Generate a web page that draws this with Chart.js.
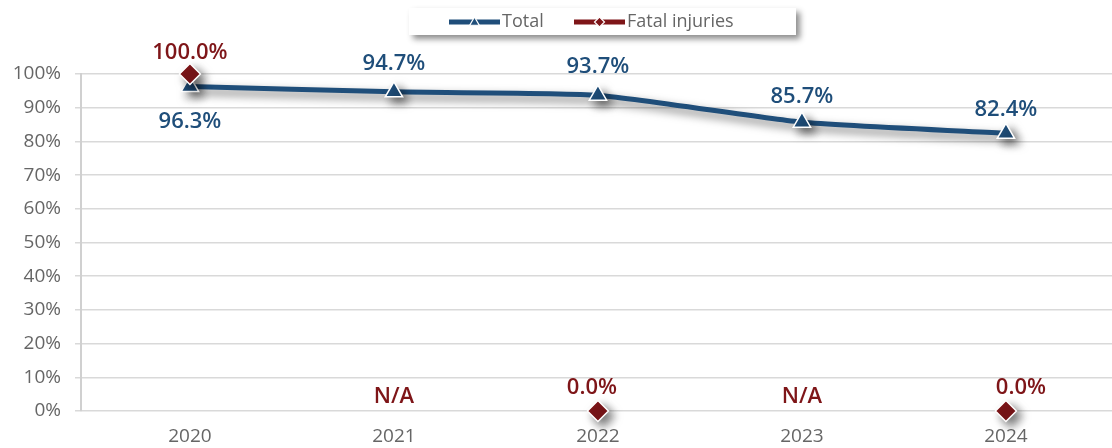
<!DOCTYPE html>
<html>
<head>
<meta charset="utf-8">
<script src="https://cdn.jsdelivr.net/npm/chart.js@4/dist/chart.umd.min.js"></script>
<style>
  html, body { margin: 0; padding: 0; background: #ffffff; }
  #wrap { width: 1112px; height: 448px; position: relative; }
</style>
</head>
<body>
<div id="wrap"><canvas id="c" width="1112" height="448"></canvas></div>
<script>
// Share of cases, by year
const years = ['2020', '2021', '2022', '2023', '2024'];
const totalValues = [96.3, 94.7, 93.7, 85.7, 82.4];
const fatalValues = [100.0, null, 0.0, null, 0.0];
const yTicks = [0, 10, 20, 30, 40, 50, 60, 70, 80, 90, 100];
const seriesNames = ['Total', 'Fatal injuries'];

const BLUE = '#1F4E7A';
const RED = '#7E1518';
const GREY_TEXT = '#666666';
const GRID = '#D9D9D9';
const FONT = '"Open Sans", Lato, sans-serif';

// Label placement relative to each marker (pixels)
const totalLabelShift = [[0, 35], [0, -28], [0, -28], [0, -25], [0, -24]];
const fatalLabelShift = [[0, -21], [0, -14], [-6, -23], [0, -14], [15, -23]];

function fmt(v) { return v === null ? 'N/A' : v.toFixed(1) + '%'; }
function toPoints(values) { return values.map((v, i) => ({ x: i, y: v })); }

// Soft drop shadow under lines and markers
const shadowPlugin = {
  id: 'dropShadow',
  beforeDatasetDraw(chart) {
    const ctx = chart.ctx;
    ctx.save();
    ctx.shadowColor = 'rgba(0,0,0,0.55)';
    ctx.shadowBlur = 10;
    ctx.shadowOffsetX = 5;
    ctx.shadowOffsetY = 5;
  },
  afterDatasetDraw(chart) {
    chart.ctx.restore();
  }
};

// Value labels next to each point
const valueLabels = {
  id: 'valueLabels',
  afterDatasetsDraw(chart) {
    const ctx = chart.ctx;
    const xs = chart.scales.x, ys = chart.scales.y;
    ctx.save();
    ctx.font = '600 22px ' + FONT;
    ctx.textAlign = 'center';
    ctx.textBaseline = 'middle';
    totalValues.forEach((v, i) => {
      const [dx, dy] = totalLabelShift[i];
      ctx.fillStyle = BLUE;
      ctx.fillText(fmt(v), xs.getPixelForValue(i) + dx, ys.getPixelForValue(v) + dy);
    });
    fatalValues.forEach((v, i) => {
      const [dx, dy] = fatalLabelShift[i];
      ctx.fillStyle = RED;
      ctx.fillText(fmt(v), xs.getPixelForValue(i) + dx, ys.getPixelForValue(v === null ? 0 : v) + dy);
    });
    ctx.restore();
  }
};

// Boxed legend at the top centre
function drawMarker(ctx, style, x, y, r, color) {
  ctx.beginPath();
  if (style === 'triangle') {
    ctx.moveTo(x, y - r);
    ctx.lineTo(x + r * 0.95, y + r * 0.65);
    ctx.lineTo(x - r * 0.95, y + r * 0.65);
    ctx.closePath();
  } else {
    ctx.moveTo(x, y - r);
    ctx.lineTo(x + r, y);
    ctx.lineTo(x, y + r);
    ctx.lineTo(x - r, y);
    ctx.closePath();
  }
  ctx.fillStyle = color;
  ctx.fill();
  ctx.lineWidth = 1.2;
  ctx.strokeStyle = '#ffffff';
  ctx.stroke();
}

const boxLegend = {
  id: 'boxLegend',
  afterDraw(chart) {
    const ctx = chart.ctx;
    const bx = 409, by = 8, bw = 387, bh = 27;
    ctx.save();
    ctx.shadowColor = 'rgba(0,0,0,0.45)';
    ctx.shadowBlur = 6;
    ctx.shadowOffsetX = 4;
    ctx.shadowOffsetY = 4;
    ctx.fillStyle = '#ffffff';
    ctx.fillRect(bx, by, bw, bh);
    ctx.restore();

    ctx.save();
    const cy = by + bh / 2 + 0.5;
    const items = [
      { name: seriesNames[0], color: BLUE, style: 'triangle', x0: 449, x1: 500, tx: 502 },
      { name: seriesNames[1], color: RED, style: 'diamond', x0: 574, x1: 625, tx: 627 }
    ];
    items.forEach(it => {
      ctx.strokeStyle = it.color;
      ctx.lineWidth = 5;
      ctx.beginPath();
      ctx.moveTo(it.x0, cy);
      ctx.lineTo(it.x1, cy);
      ctx.stroke();
      drawMarker(ctx, it.style, (it.x0 + it.x1) / 2, cy, 5, it.color);
      ctx.fillStyle = GREY_TEXT;
      ctx.font = '18px ' + FONT;
      ctx.textAlign = 'left';
      ctx.textBaseline = 'middle';
      ctx.fillText(it.name, it.tx, cy);
    });
    ctx.restore();
  }
};

new Chart(document.getElementById('c'), {
  type: 'line',
  data: {
    datasets: [
      {
        label: seriesNames[1],
        data: toPoints(fatalValues),
        order: 0,
        clip: false,
        borderColor: RED,
        backgroundColor: RED,
        borderWidth: 5,
        pointStyle: 'rectRot',
        pointRadius: 10.5,
        pointBorderColor: '#ffffff',
        pointBorderWidth: 1.5,
        pointBackgroundColor: RED,
        spanGaps: false,
        fill: false
      },
      {
        label: seriesNames[0],
        data: toPoints(totalValues),
        order: 1,
        clip: false,
        borderColor: BLUE,
        backgroundColor: BLUE,
        borderWidth: 5,
        pointStyle: 'triangle',
        pointRadius: 10,
        pointBorderColor: '#ffffff',
        pointBorderWidth: 1.5,
        pointBackgroundColor: BLUE,
        tension: 0.15,
        fill: false
      }
    ]
  },
  options: {
    responsive: false,
    animation: false,
    devicePixelRatio: 1,
    layout: { autoPadding: false, padding: { top: 74, right: 0, bottom: 0, left: 0 } },
    plugins: {
      legend: { display: false },
      tooltip: { enabled: false }
    },
    scales: {
      x: {
        type: 'linear',
        min: -0.534,
        max: 4.52,
        afterBuildTicks(scale) {
          scale.ticks = years.map((_, i) => ({ value: i }));
        },
        afterFit(scale) {
          scale.paddingLeft = 0;
          scale.paddingRight = 0;
          scale.height = 37;
        },
        grid: { display: false, drawTicks: false },
        border: { display: false },
        ticks: {
          color: GREY_TEXT,
          font: { family: FONT, size: 19 },
          padding: 14,
          maxRotation: 0,
          callback: v => years[v]
        }
      },
      y: {
        min: 0,
        max: 100,
        afterBuildTicks(scale) {
          scale.ticks = yTicks.map(v => ({ value: v }));
        },
        afterFit(scale) { scale.width = 81; },
        grid: { color: GRID, lineWidth: 1.5, tickLength: 6, tickColor: GRID },
        border: { display: true, color: '#D0D0D0', width: 2 },
        ticks: {
          color: GREY_TEXT,
          font: { family: FONT, size: 19 },
          padding: 14,
          callback: v => v + '%'
        }
      }
    }
  },
  plugins: [shadowPlugin, valueLabels, boxLegend]
});
</script>
</body>
</html>
